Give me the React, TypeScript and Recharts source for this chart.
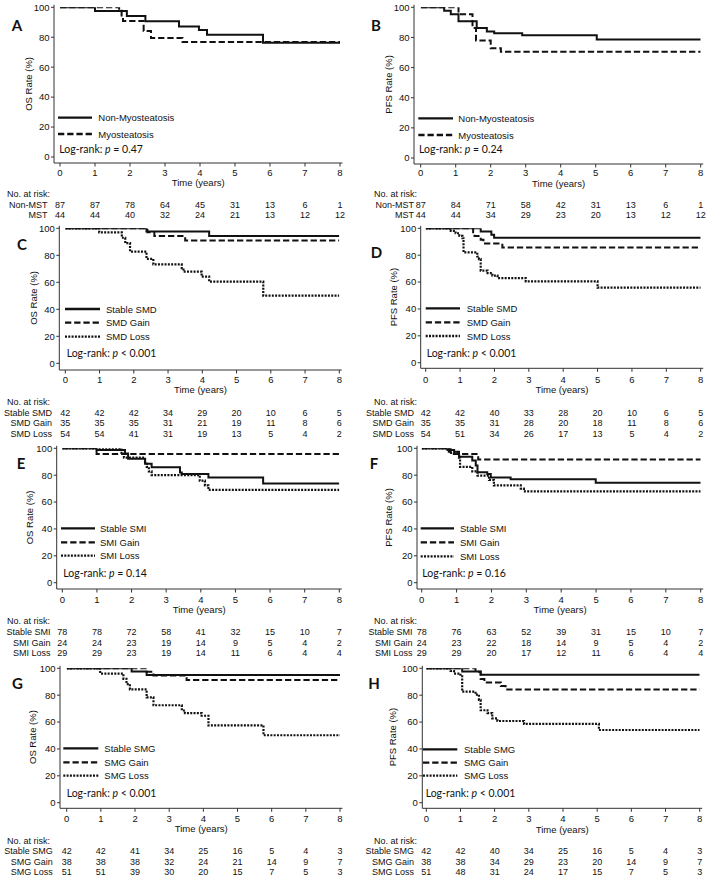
import React from 'react';
import { LineChart, Line, XAxis, YAxis } from 'recharts';

// ---------- shared ticks ----------
const TIME_TICKS = [0, 1, 2, 3, 4, 5, 6, 7, 8];
const RATE_TICKS = [0, 20, 40, 60, 80, 100];

// ---------- curves: [time (years), rate (%)] ----------
// A: OS by myosteatosis
const osNonMyo = [[0, 100], [1.0, 97.6], [1.91, 94.2], [2.44, 90.6], [3.4, 87.2], [3.97, 84.8], [4.2, 81.6], [5.8, 76.4], [8, 76.4]];
const osMyo = [[0, 100], [1.69, 97.7], [1.76, 93.2], [1.8, 90.9], [2.39, 84.1], [2.6, 79.5], [3.5, 76.9], [8, 76.9]];
// B: PFS by myosteatosis
const pfsNonMyo = [[0, 100], [0.67, 97.7], [0.86, 95.4], [1.08, 90.8], [1.6, 86.3], [1.89, 84.0], [2.1, 82.8], [2.9, 81.5], [5.03, 78.6], [8, 78.6]];
const pfsMyo = [[0, 100], [1.08, 95.4], [1.48, 86.3], [1.58, 77.9], [2.0, 72.8], [2.29, 70.5], [8, 70.5]];
// C: OS by SMD
const osSmdStable = [[0, 100], [2.37, 97.6], [4.2, 94.3], [8, 94.3]];
const osSmdGain = [[0, 100], [2.4, 97.1], [2.6, 94.3], [3.5, 90.9], [8, 90.9]];
const osSmdLoss = [[0, 100], [0.99, 97.0], [1.65, 93.0], [1.75, 89.0], [1.89, 82.7], [2.37, 77.3], [2.57, 73.3], [3.4, 70.5], [3.45, 67.9], [3.98, 64.2], [4.2, 60.5], [5.78, 50.1], [8, 50.1]];
// D: PFS by SMD
const pfsSmdStable = [[0, 100], [1.6, 97.6], [1.91, 95.2], [1.99, 92.9], [8, 92.9]];
const pfsSmdGain = [[0, 100], [1.38, 97.1], [1.42, 94.3], [1.6, 91.4], [1.68, 88.6], [2.23, 85.7], [8, 85.7]];
const pfsSmdLoss = [[0, 100], [0.73, 98.1], [0.87, 96.3], [0.98, 94.4], [1.07, 92.6], [1.1, 82.1], [1.5, 79.0], [1.55, 77.0], [1.6, 68.5], [1.8, 66.7], [1.94, 64.8], [2.09, 63.0], [2.91, 60.5], [5.0, 55.8], [8, 55.8]];
// E: OS by SMI
const osSmiStable = [[0, 100], [0.99, 98.7], [1.81, 96.2], [1.9, 92.3], [2.39, 88.5], [2.58, 85.9], [3.4, 82.0], [3.45, 80.8], [4.22, 78.2], [5.8, 73.8], [8, 73.8]];
const osSmiGain = [[0, 100], [0.99, 95.8], [8, 95.8]];
const osSmiLoss = [[0, 100], [1.71, 96.6], [1.78, 93.1], [2.39, 89.7], [2.44, 86.2], [2.5, 82.8], [2.58, 80.0], [3.97, 75.9], [4.12, 72.4], [4.22, 69.0], [8, 69.0]];
// F: PFS by SMI
const pfsSmiStable = [[0, 100], [0.74, 98.7], [0.93, 97.4], [1.07, 93.8], [1.45, 91.0], [1.55, 87.2], [1.6, 82.1], [1.88, 80.8], [1.98, 78.2], [2.55, 76.9], [4.99, 74.4], [8, 74.4]];
const pfsSmiGain = [[0, 100], [0.83, 95.8], [1.62, 91.7], [8, 91.7]];
const pfsSmiLoss = [[0, 100], [0.78, 96.6], [1.07, 93.1], [1.1, 86.2], [1.45, 82.8], [1.6, 79.7], [1.93, 76.4], [2.07, 72.4], [2.84, 70.0], [2.93, 68.0], [8, 68.0]];
// G: OS by SMG
const osSmgStable = [[0, 100], [1.9, 97.6], [2.34, 95.1], [8, 95.1]];
const osSmgGain = [[0, 100], [2.34, 97.4], [2.54, 94.7], [3.51, 91.3], [8, 91.3]];
const osSmgLoss = [[0, 100], [0.98, 96.1], [1.66, 92.2], [1.75, 88.2], [1.85, 84.3], [2.34, 78.4], [2.54, 72.5], [3.37, 68.6], [3.46, 66.7], [3.95, 64.7], [4.15, 57.5], [5.76, 50.2], [8, 50.2]];
// H: PFS by SMG
const pfsSmgStable = [[0, 100], [1.05, 97.6], [1.59, 95.2], [8, 95.2]];
const pfsSmgGain = [[0, 100], [1.44, 97.4], [1.59, 92.1], [1.7, 89.5], [2.18, 86.8], [2.32, 84.2], [8, 84.2]];
const pfsSmgLoss = [[0, 100], [0.71, 98.0], [0.81, 96.1], [1.0, 94.1], [1.05, 82.6], [1.44, 80.4], [1.54, 76.5], [1.59, 68.8], [1.79, 66.7], [1.93, 62.7], [2.08, 60.8], [2.86, 58.6], [5.05, 54.1], [8, 54.1]];

// ---------- numbers at risk ----------
const riskOsNonMst = [87, 87, 78, 64, 45, 31, 13, 6, 1];
const riskOsMst = [44, 44, 40, 32, 24, 21, 13, 12, 12];
const riskPfsNonMst = [87, 84, 71, 58, 42, 31, 13, 6, 1];
const riskPfsMst = [44, 44, 34, 29, 23, 20, 13, 12, 12];
const riskOsSmdStable = [42, 42, 42, 34, 29, 20, 10, 6, 5];
const riskOsSmdGain = [35, 35, 35, 31, 21, 19, 11, 8, 6];
const riskOsSmdLoss = [54, 54, 41, 31, 19, 13, 5, 4, 2];
const riskPfsSmdStable = [42, 42, 40, 33, 28, 20, 10, 6, 5];
const riskPfsSmdGain = [35, 35, 31, 28, 20, 18, 11, 8, 6];
const riskPfsSmdLoss = [54, 51, 34, 26, 17, 13, 5, 4, 2];
const riskOsSmiStable = [78, 78, 72, 58, 41, 32, 15, 10, 7];
const riskOsSmiGain = [24, 24, 23, 19, 14, 9, 5, 4, 2];
const riskOsSmiLoss = [29, 29, 23, 19, 14, 11, 6, 4, 4];
const riskPfsSmiStable = [78, 76, 63, 52, 39, 31, 15, 10, 7];
const riskPfsSmiGain = [24, 23, 22, 18, 14, 9, 5, 4, 2];
const riskPfsSmiLoss = [29, 29, 20, 17, 12, 11, 6, 4, 4];
const riskOsSmgStable = [42, 42, 41, 34, 25, 16, 5, 4, 3];
const riskOsSmgGain = [38, 38, 38, 32, 24, 21, 14, 9, 7];
const riskOsSmgLoss = [51, 51, 39, 30, 20, 15, 7, 5, 3];
const riskPfsSmgStable = [42, 42, 40, 34, 25, 16, 5, 4, 3];
const riskPfsSmgGain = [38, 38, 34, 29, 23, 20, 14, 9, 7];
const riskPfsSmgLoss = [51, 48, 31, 24, 17, 15, 7, 5, 3];

// ---------- labels ----------
const NAMES_MYO = ['Non-Myosteatosis', 'Myosteatosis'];
const NAMES_SMD = ['Stable SMD', 'SMD Gain', 'SMD Loss'];
const NAMES_SMI = ['Stable SMI', 'SMI Gain', 'SMI Loss'];
const NAMES_SMG = ['Stable SMG', 'SMG Gain', 'SMG Loss'];
const RISK_MYO = ['Non-MST', 'MST'];
const KINDS2 = ['solid', 'dashed'];
const KINDS3 = ['solid', 'dashed', 'dotted'];
const P_VALUES = ['= 0.47', '= 0.24', '< 0.001', '< 0.001', '= 0.14', '= 0.16', '< 0.001', '< 0.001'];

// ---------- styles ----------
const FONT = '"Liberation Sans", Arial, Helvetica, sans-serif';
const CAL = 'Lato, Carlito, "Open Sans", sans-serif';
const INK = '#111';
const AXIS = '#333';
const FS = 9.5;
const FS_RISK = 9;
const DASH: Record<string, string | undefined> = { solid: undefined, dashed: '6.3 2.9', dotted: '2 1.3' };

// ---------- layout (x relative to panel left, y page coords) ----------
const GEO = {
  A: { left: 0, top: 0, width: 354, height: 222, axisX: 54, x0: 60, x8: 340, y100: 7.3, y0: 157, axisY: 163, ticksY: 172.7, timeY: 182.9, noRiskY: 194.2, rowYs: [204.6, 215.1], ylabX: 28.3, labelEnd: 47.5, noRiskEnd: 50 },
  B: { left: 354, top: 0, width: 355, height: 222, axisX: 60, x0: 66.7, x8: 346.7, y100: 7.3, y0: 158, axisY: 164, ticksY: 173, timeY: 183.3, noRiskY: 194.2, rowYs: [204.6, 215.1], ylabX: 34.7, labelEnd: 60, noRiskEnd: 63 },
  C: { left: 0, top: 222, width: 354, height: 218, axisX: 59.3, x0: 65.3, x8: 339.3, y100: 228.3, y0: 363.3, axisY: 370, ticksY: 380, timeY: 390.2, noRiskY: 401.7, rowYs: [412.8, 423.4, 434], ylabX: 33.3, labelEnd: 52, noRiskEnd: 50 },
  D: { left: 354, top: 222, width: 355, height: 218, axisX: 66.7, x0: 71.7, x8: 346.7, y100: 228.3, y0: 362.7, axisY: 368.3, ticksY: 379.6, timeY: 390, noRiskY: 401.7, rowYs: [412.8, 423.4, 434], ylabX: 40, labelEnd: 60, noRiskEnd: 63 },
  E: { left: 0, top: 440, width: 354, height: 218, axisX: 56.7, x0: 62.3, x8: 339.3, y100: 448.3, y0: 582.7, axisY: 589, ticksY: 599.3, timeY: 609.5, noRiskY: 620.7, rowYs: [632, 642.5, 653], ylabX: 30, labelEnd: 50.5, noRiskEnd: 50 },
  F: { left: 354, top: 440, width: 355, height: 218, axisX: 63, x0: 67.7, x8: 346.7, y100: 448.3, y0: 582.7, axisY: 589, ticksY: 599.6, timeY: 610, noRiskY: 620.9, rowYs: [632, 642.5, 653], ylabX: 35, labelEnd: 58.5, noRiskEnd: 63 },
  G: { left: 0, top: 658, width: 354, height: 222, axisX: 60, x0: 66.7, x8: 340, y100: 668.3, y0: 802.7, axisY: 808.3, ticksY: 819, timeY: 829.2, noRiskY: 840.5, rowYs: [851, 861.5, 872], ylabX: 32.8, labelEnd: 52.7, noRiskEnd: 50 },
  H: { left: 354, top: 658, width: 355, height: 222, axisX: 68.3, x0: 72.3, x8: 345.7, y100: 668.3, y0: 802.7, axisY: 808.3, ticksY: 819, timeY: 829.3, noRiskY: 840.5, rowYs: [851, 861.5, 872], ylabX: 38.3, labelEnd: 60, noRiskEnd: 63 },
};

const LEG = {
  A: { letterX: 17, letterY: 24.7, lx1: 58, lx2: 92, tx: 98.3, ys: [117.7, 134], logX: 59.3, logY: 149 },
  B: { letterX: 376, letterY: 24.7, lx1: 418.3, lx2: 453, tx: 458.3, ys: [118.3, 135], logX: 419, logY: 149 },
  C: { letterX: 22, letterY: 244.3, lx1: 65, lx2: 100, tx: 106, ys: [309, 322.7, 336.7], logX: 66.7, logY: 353.3 },
  D: { letterX: 376.5, letterY: 251.7, lx1: 425.7, lx2: 460, tx: 466.7, ys: [308.3, 322.3, 336], logX: 426.7, logY: 353.3 },
  E: { letterX: 21, letterY: 463.3, lx1: 61, lx2: 95, tx: 100, ys: [528.3, 542.3, 555.7], logX: 63.3, logY: 572.7 },
  F: { letterX: 374, letterY: 463.3, lx1: 420.7, lx2: 454, tx: 460, ys: [528.3, 542.3, 556.3], logX: 422.3, logY: 573.3 },
  G: { letterX: 17.5, letterY: 683.3, lx1: 63.3, lx2: 98.3, tx: 104.3, ys: [748.3, 762.3, 775.7], logX: 66.7, logY: 792.7 },
  H: { letterX: 374, letterY: 683.3, lx1: 423, lx2: 457.3, tx: 464, ys: [749.3, 762.7, 775.7], logX: 425.7, logY: 792.7 },
};

type Panel = {
  id: string;
  yLabel: string;
  p: string;
  names: string[];
  kinds: string[];
  curves: number[][][];
  riskLabels: string[];
  risk: number[][];
  g: any;
  lg: any;
};

const PANELS: Panel[] = [
  { id: 'A', yLabel: 'OS Rate (%)', p: P_VALUES[0], names: NAMES_MYO, kinds: KINDS2, curves: [osNonMyo, osMyo], riskLabels: RISK_MYO, risk: [riskOsNonMst, riskOsMst], g: GEO.A, lg: LEG.A },
  { id: 'B', yLabel: 'PFS Rate (%)', p: P_VALUES[1], names: NAMES_MYO, kinds: KINDS2, curves: [pfsNonMyo, pfsMyo], riskLabels: RISK_MYO, risk: [riskPfsNonMst, riskPfsMst], g: GEO.B, lg: LEG.B },
  { id: 'C', yLabel: 'OS Rate (%)', p: P_VALUES[2], names: NAMES_SMD, kinds: KINDS3, curves: [osSmdStable, osSmdGain, osSmdLoss], riskLabels: NAMES_SMD, risk: [riskOsSmdStable, riskOsSmdGain, riskOsSmdLoss], g: GEO.C, lg: LEG.C },
  { id: 'D', yLabel: 'PFS Rate (%)', p: P_VALUES[3], names: NAMES_SMD, kinds: KINDS3, curves: [pfsSmdStable, pfsSmdGain, pfsSmdLoss], riskLabels: NAMES_SMD, risk: [riskPfsSmdStable, riskPfsSmdGain, riskPfsSmdLoss], g: GEO.D, lg: LEG.D },
  { id: 'E', yLabel: 'OS Rate (%)', p: P_VALUES[4], names: NAMES_SMI, kinds: KINDS3, curves: [osSmiStable, osSmiGain, osSmiLoss], riskLabels: NAMES_SMI, risk: [riskOsSmiStable, riskOsSmiGain, riskOsSmiLoss], g: GEO.E, lg: LEG.E },
  { id: 'F', yLabel: 'PFS Rate (%)', p: P_VALUES[5], names: NAMES_SMI, kinds: KINDS3, curves: [pfsSmiStable, pfsSmiGain, pfsSmiLoss], riskLabels: NAMES_SMI, risk: [riskPfsSmiStable, riskPfsSmiGain, riskPfsSmiLoss], g: GEO.F, lg: LEG.F },
  { id: 'G', yLabel: 'OS Rate (%)', p: P_VALUES[6], names: NAMES_SMG, kinds: KINDS3, curves: [osSmgStable, osSmgGain, osSmgLoss], riskLabels: NAMES_SMG, risk: [riskOsSmgStable, riskOsSmgGain, riskOsSmgLoss], g: GEO.G, lg: LEG.G },
  { id: 'H', yLabel: 'PFS Rate (%)', p: P_VALUES[7], names: NAMES_SMG, kinds: KINDS3, curves: [pfsSmgStable, pfsSmgGain, pfsSmgLoss], riskLabels: NAMES_SMG, risk: [riskPfsSmgStable, riskPfsSmgGain, riskPfsSmgLoss], g: GEO.H, lg: LEG.H },
];

function makeRiskTick(values: number[] | null, label: string, labelEnd: number, cy: number) {
  return (p: any) => {
    const v = p?.payload?.value;
    let idx = TIME_TICKS.indexOf(v);
    if (idx < 0) idx = p.index ?? 0;
    const yc = p.y + cy;
    return (
      <g>
        {idx === 0 ? (
          <text x={labelEnd} y={yc} textAnchor="end" dominantBaseline="central" fontSize={FS_RISK} fontFamily={FONT} fill={INK}>
            {label}
          </text>
        ) : null}
        {values ? (
          <text x={p.x} y={yc} textAnchor="middle" dominantBaseline="central" fontSize={FS_RISK} fontFamily={FONT} fill={INK}>
            {values[idx]}
          </text>
        ) : null}
      </g>
    );
  };
}

function KMChart({ def }: { def: Panel }) {
  const g = def.g;
  const plotTop = g.y100 - 2.5;
  const plotRight = g.x8 + 2.5;
  const mLeft = Math.max(0, 2 * g.ylabX - g.axisX);
  const centers: number[] = [g.noRiskY, ...g.rowYs];
  const n = centers.length;
  const bounds: number[] = [centers[0] - (centers[1] - centers[0]) / 2];
  for (let i = 1; i < n; i++) bounds.push((centers[i - 1] + centers[i]) / 2);
  bounds.push(centers[n - 1] + (centers[n - 1] - centers[n - 2]) / 2);
  const mainH = bounds[0] - g.axisY;
  const margin = {
    top: plotTop - g.top,
    right: g.width - plotRight,
    left: mLeft,
    bottom: g.top + g.height - bounds[n],
  };
  const tickSize = 3.5;
  const tickMargin = g.ticksY - g.axisY - tickSize - 3.35;
  const timeOffset = bounds[0] - (g.timeY + 3.2);
  const riskAxes = centers.map((c, i) => ({
    id: `r${i}`,
    h: bounds[i + 1] - bounds[i],
    cy: c - bounds[i],
    label: i === 0 ? 'No. at risk:' : def.riskLabels[i - 1],
    end: i === 0 ? g.noRiskEnd : g.labelEnd,
    values: i === 0 ? null : def.risk[i - 1],
  }));

  return (
    <div style={{ position: 'absolute', left: g.left, top: g.top }}>
      <LineChart width={g.width} height={g.height} margin={margin} style={{ fontFamily: FONT }}>
        <XAxis
          xAxisId="main"
          dataKey="t"
          type="number"
          domain={[0, 8]}
          allowDataOverflow
          ticks={TIME_TICKS}
          interval={0}
          padding={{ left: g.x0 - g.axisX, right: plotRight - g.x8 }}
          height={mainH}
          tickSize={tickSize}
          tickMargin={tickMargin}
          stroke={AXIS}
          tick={{ fontSize: FS, fill: INK, fontFamily: FONT }}
          label={{ value: 'Time (years)', position: 'insideBottom', offset: timeOffset, fontSize: FS, fill: INK, fontFamily: FONT }}
        />
        {riskAxes.map((r) => (
          <XAxis
            key={r.id}
            xAxisId={r.id}
            dataKey="t"
            type="number"
            domain={[0, 8]}
            allowDataOverflow
            ticks={TIME_TICKS}
            interval={0}
            padding={{ left: g.x0 - g.axisX, right: plotRight - g.x8 }}
            height={r.h}
            tickSize={0}
            tickMargin={0}
            axisLine={false}
            tickLine={false}
            tick={makeRiskTick(r.values, r.label, r.end, r.cy)}
          />
        ))}
        <YAxis
          yAxisId="y"
          type="number"
          domain={[0, 100]}
          allowDataOverflow
          ticks={RATE_TICKS}
          interval={0}
          width={g.axisX - mLeft}
          padding={{ top: g.y100 - plotTop, bottom: g.axisY - g.y0 }}
          tickSize={3}
          tickMargin={1.5}
          stroke={AXIS}
          tick={{ fontSize: FS, fill: INK, fontFamily: FONT }}
          label={{ value: def.yLabel, angle: -90, position: 'center', fontSize: FS, fill: INK, fontFamily: FONT }}
        />
        {def.curves.map((c, i) => (
          <Line
            key={i}
            xAxisId="main"
            yAxisId="y"
            data={c.map(([t, v]) => ({ t, v }))}
            dataKey="v"
            type="stepAfter"
            stroke={INK}
            strokeWidth={def.kinds[i] === 'dotted' ? 2.2 : 2}
            strokeDasharray={DASH[def.kinds[i]]}
            dot={false}
            activeDot={false}
            isAnimationActive={false}
          />
        ))}
      </LineChart>
    </div>
  );
}

function Overlay() {
  return (
    <svg width={709} height={880} style={{ position: 'absolute', left: 0, top: 0, pointerEvents: 'none' }}>
      {PANELS.map((def) => {
        const lg = def.lg;
        return (
          <g key={def.id}>
            <text x={lg.letterX} y={lg.letterY} textAnchor="middle" dominantBaseline="central" fontFamily={CAL} fontWeight="bold" fontSize={15} fill={INK}>
              {def.id}
            </text>
            {def.names.map((nm, i) => (
              <g key={nm}>
                <line x1={lg.lx1} x2={lg.lx2} y1={lg.ys[i]} y2={lg.ys[i]} stroke={INK} strokeWidth={2.3} strokeDasharray={DASH[def.kinds[i]]} />
                <text x={lg.tx} y={lg.ys[i]} dominantBaseline="central" fontFamily={FONT} fontSize={FS} fill={INK}>
                  {nm}
                </text>
              </g>
            ))}
            <text x={lg.logX} y={lg.logY} dominantBaseline="central" fontFamily={CAL} fontSize={10.5} fill={INK}>
              Log-rank: <tspan fontStyle="italic">p</tspan> {def.p}
            </text>
          </g>
        );
      })}
    </svg>
  );
}

export default function App() {
  return (
    <div style={{ position: 'absolute', left: 0, top: 0, width: 709, height: 880, background: '#fff', overflow: 'hidden' }}>
      {PANELS.map((def) => (
        <KMChart key={def.id} def={def} />
      ))}
      <Overlay />
    </div>
  );
}
